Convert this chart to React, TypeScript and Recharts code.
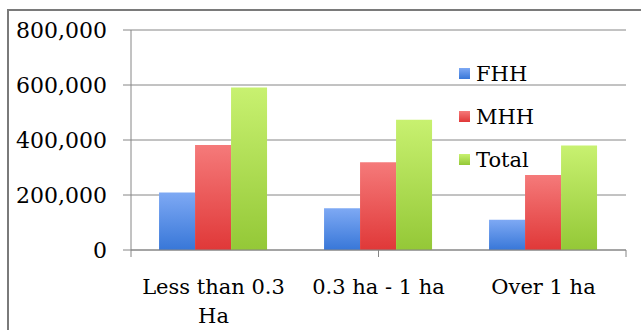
import { BarChart, Bar, XAxis, YAxis, CartesianGrid, Legend } from "recharts"

const categories = ["Less than 0.3\nHa", "0.3 ha - 1 ha", "Over 1 ha"]
const fhh = [209000, 152000, 110000]
const mhh = [382000, 319000, 273000]
const total = [591000, 474000, 380000]
const seriesNames = ["FHH", "MHH", "Total"]
const yTicks = [0, 200000, 400000, 600000, 800000]
const bandTicks = [0, 1, 2, 3]

const data = categories.map((cat, i) => ({
  cat,
  FHH: fhh[i],
  MHH: mhh[i],
  Total: total[i],
}))

const FONT = "'DejaVu Serif', serif"
const AXIS = "#868686"

// top / bottom stops for each series gradient
const shades: Record<string, [string, string]> = {
  FHH: ["#7ea9f4", "#3877d8"],
  MHH: ["#f57a7a", "#e03838"],
  Total: ["#c8f170", "#94c837"],
}

function CategoryTick({ x, y, payload }: any) {
  const lines = String(payload.value).split("\n")
  return (
    <text x={x} y={y} textAnchor="middle" fontFamily={FONT} fontSize={21} fill="#000">
      {lines.map((line, i) => (
        <tspan key={i} x={x} dy={i === 0 ? 43 : 29}>
          {line}
        </tspan>
      ))}
    </text>
  )
}

function LegendList({ payload }: any) {
  return (
    <div style={{ fontFamily: FONT, fontSize: 21, color: "#000" }}>
      {(payload || []).map((entry: any) => {
        const [top, bottom] = shades[entry.value]
        return (
          <div key={entry.value} style={{ display: "flex", alignItems: "center", height: 43 }}>
            <span
              style={{
                display: "inline-block",
                width: 11,
                height: 11,
                marginRight: 6,
                background: `linear-gradient(${top}, ${bottom})`,
              }}
            />
            {entry.value}
          </div>
        )
      })}
    </div>
  )
}

export default function App() {
  return (
    <div style={{ position: "absolute", left: 0, top: 0, width: 641, height: 330, background: "#fff" }}>
      <div
        style={{
          position: "absolute",
          left: 7,
          top: 9,
          right: 0,
          bottom: 0,
          borderLeft: "2px solid #7a7a7a",
          borderTop: "2px solid #7a7a7a",
        }}
      />
      <div style={{ position: "absolute", left: 0, top: 0 }}>
        <BarChart
          width={641}
          height={330}
          data={data}
          margin={{ top: 30, right: 15, left: 8, bottom: 78 }}
          barCategoryGap="17%"
          barGap={0}
        >
          <defs>
            {seriesNames.map((name) => (
              <linearGradient key={name} id={`grad-${name}`} x1="0" y1="0" x2="0" y2="1">
                <stop offset="0%" stopColor={shades[name][0]} />
                <stop offset="100%" stopColor={shades[name][1]} />
              </linearGradient>
            ))}
          </defs>
          <CartesianGrid vertical={false} stroke={AXIS} strokeWidth={1} />
          {/* boundary tick marks between the categories */}
          <XAxis
            xAxisId="bands"
            type="number"
            domain={[0, 3]}
            ticks={bandTicks}
            interval={0}
            allowDataOverflow
            height={1}
            tickFormatter={() => ""}
            tickSize={7}
            stroke={AXIS}
          />
          <XAxis
            xAxisId="cat"
            dataKey="cat"
            height={1}
            axisLine={false}
            tickLine={false}
            tickSize={0}
            tickMargin={0}
            interval={0}
            tick={<CategoryTick />}
          />
          <YAxis
            domain={[0, 800000]}
            ticks={yTicks}
            interval={0}
            width={123}
            tickSize={8}
            tickMargin={16}
            stroke={AXIS}
            tickFormatter={(v: number) => v.toLocaleString("en-US")}
            tick={{ fontFamily: FONT, fontSize: 22, fill: "#000" }}
          />
          <Legend
            layout="vertical"
            align="center"
            verticalAlign="middle"
            content={<LegendList />}
            wrapperStyle={{ position: "absolute", top: 52, left: 459, width: 120 }}
          />
          {seriesNames.map((name) => (
            <Bar
              key={name}
              xAxisId="cat"
              dataKey={name}
              fill={`url(#grad-${name})`}
              isAnimationActive={false}
            />
          ))}
        </BarChart>
      </div>
    </div>
  )
}
